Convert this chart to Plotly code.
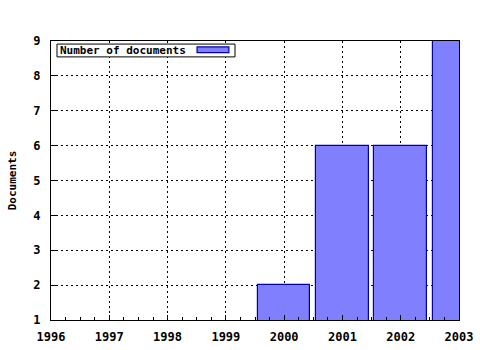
import plotly.graph_objects as go

years = [2000, 2001, 2002, 2003]
documents = [2, 6, 6, 9]
series_name = "Number of documents"
x_ticks = [1996, 1997, 1998, 1999, 2000, 2001, 2002, 2003]
y_ticks = [1, 2, 3, 4, 5, 6, 7, 8, 9]

FONT = "DejaVu Sans Mono"
fill = "#8080ff"
edge = "#0000a8"

fig = go.Figure()
fig.add_trace(go.Bar(
    x=years, y=documents, width=0.9, name=series_name,
    marker=dict(color=fill, line=dict(color=edge, width=1.2)),
    showlegend=False,
))

axis_common = dict(
    showline=True, mirror=True, linecolor="black", linewidth=1,
    ticks="inside", ticklen=5, tickcolor="black",
    showgrid=True, gridcolor="black", griddash="2px,3px", gridwidth=1,
    zeroline=False, automargin=False,
    tickfont=dict(family=FONT, size=12, color="black", weight="bold"),
)

fig.update_xaxes(
    range=[1996, 2003], tickvals=x_ticks, ticktext=[str(v) for v in x_ticks],
    minor=dict(dtick=0.25, ticks="inside", ticklen=3, tickcolor="black", showgrid=False),
    ticklabelstandoff=6,
    **axis_common,
)
fig.update_yaxes(
    range=[1, 9], tickvals=y_ticks,
    ticklabelstandoff=7,
    title=dict(text="Documents", font=dict(family=FONT, size=11, color="black", weight="bold"), standoff=14),
    **axis_common,
)

# legend box (text before sample, gnuplot style)
fig.add_shape(type="rect", xref="paper", yref="paper",
              x0=0.0147, x1=0.451, y0=0.943, y1=0.989,
              line=dict(color="black", width=1), fillcolor="white", layer="above")
fig.add_shape(type="rect", xref="paper", yref="paper",
              x0=0.358, x1=0.436, y0=0.958, y1=0.979,
              line=dict(color=edge, width=1.2), fillcolor=fill, layer="above")
fig.add_annotation(xref="paper", yref="paper", x=0.0172, y=0.966,
                   xanchor="left", yanchor="middle", showarrow=False,
                   text=series_name,
                   font=dict(family=FONT, size=11, color="black", weight="bold"))

fig.update_layout(
    width=480, height=350,
    margin=dict(l=51, r=21, t=41, b=30),
    plot_bgcolor="white", paper_bgcolor="white",
    bargap=0,
)

fig.write_html("out.html")
